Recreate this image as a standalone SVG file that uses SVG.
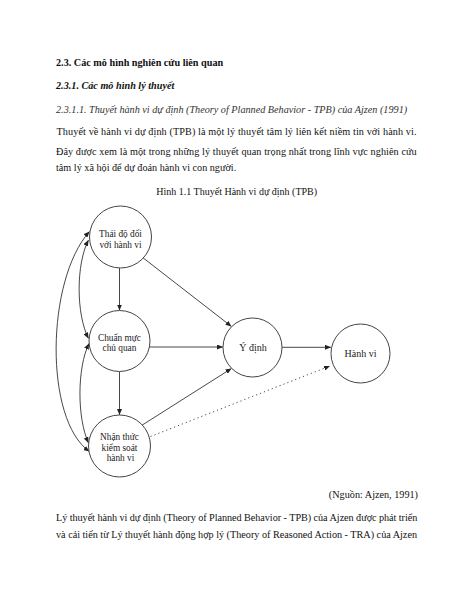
<svg xmlns="http://www.w3.org/2000/svg" width="474" height="613" viewBox="0 0 474 613">
<style>
text{font-family:"Liberation Serif","Times New Roman",serif;fill:#111;}
.body{font-size:10.2px;}
.h1{font-size:10.2px;font-weight:bold;}
.h2{font-size:10.2px;font-weight:bold;font-style:italic;}
.h3{font-size:10.2px;font-style:italic;fill:#333;}
.nl{font-size:9.3px;text-anchor:middle;fill:#222;}
.nr{font-size:10px;text-anchor:middle;fill:#222;}
.node circle{fill:#fff;stroke:#444;stroke-width:1;}
.edge{fill:none;stroke:#333;stroke-width:0.9;marker-end:url(#ah);}
.bi{marker-start:url(#ah);}
.dot{stroke-dasharray:1.2 3;}
</style>
<defs>
<marker id="ah" markerUnits="userSpaceOnUse" markerWidth="6" markerHeight="5" refX="6" refY="2.5" orient="auto-start-reverse">
<path d="M0,0 L6,2.5 L0,5 z" fill="#222"/>
</marker>
</defs>
<rect width="474" height="613" fill="#fff"/>
<g id="page-text">
<text class="h1" x="56" y="66">2.3. Các mô hình nghiên cứu liên quan</text>
<text class="h2" x="56" y="88.5">2.3.1. Các mô hình lý thuyết</text>
<text class="h3" x="56" y="112.5">2.3.1.1. Thuyết hành vi dự định (Theory of Planned Behavior - TPB) của Ajzen (1991)</text>
<text class="body" x="56.5" y="134.5" textLength="360" lengthAdjust="spacing">Thuyết về hành vi dự định (TPB) là một lý thuyết tâm lý liên kết niềm tin với hành vi.</text>
<text class="body" x="56" y="155" textLength="360.7" lengthAdjust="spacing">Đây được xem là một trong những lý thuyết quan trọng nhất trong lĩnh vực nghiên cứu</text>
<text class="body" x="56" y="171">tâm lý xã hội để dự đoán hành vi con người.</text>
<text class="body" x="236.7" y="195" text-anchor="middle" style="font-size:10px">Hình 1.1 Thuyết Hành vi dự định (TPB)</text>
<text class="body" x="418" y="497.5" text-anchor="end">(Nguồn: Ajzen, 1991)</text>
<text class="body" x="56" y="520.5" textLength="361.3" lengthAdjust="spacing">Lý thuyết hành vi dự định (Theory of Planned Behavior - TPB) của Ajzen được phát triển</text>
<text class="body" x="56" y="538" textLength="361" lengthAdjust="spacing">và cải tiến từ Lý thuyết hành động hợp lý (Theory of Reasoned Action - TRA) của Ajzen</text>
</g>
<g id="connectors">
<path class="edge" d="M119.5,268 L119.5,310.5"/>
<path class="edge" d="M119.5,371.5 L119.5,415"/>
<path class="edge" d="M142,257 L231.5,326.5"/>
<path class="edge" d="M149.5,347 L223,347"/>
<path class="edge" d="M141.5,425.5 L231.5,368.5"/>
<path class="edge" d="M282,347.3 L331,347.3"/>
<path class="edge dot" d="M150.5,436.5 L330,366"/>
<path class="edge bi" d="M88.5,240 C76,264 76,314 88.5,338.5"/>
<path class="edge bi" d="M89,343.5 C77,368 77,418 88.5,443"/>
<path class="edge bi" d="M89.5,231.5 C46,280 44,420 89.5,451.5"/>
</g>
<g id="n-thaido" class="node">
<circle cx="120.5" cy="237" r="31"/>
<text class="nl" x="120.5" y="236.5">Thái độ đối</text>
<text class="nl" x="120.5" y="247.5">với hành vi</text>
</g>
<g id="n-chuanmuc" class="node">
<circle cx="119.5" cy="341" r="30.5"/>
<text class="nl" x="119.5" y="340.5">Chuẩn mực</text>
<text class="nl" x="119.5" y="351">chủ quan</text>
</g>
<g id="n-nhanthuc" class="node">
<circle cx="119.5" cy="446" r="31"/>
<text class="nl" x="119.5" y="440">Nhận thức</text>
<text class="nl" x="119.5" y="450.5">kiểm soát</text>
<text class="nl" x="120.5" y="461">hành vi</text>
</g>
<g id="n-ydinh" class="node">
<circle cx="252.5" cy="347.5" r="29.5"/>
<text class="nr" x="253" y="350.5">Ý định</text>
</g>
<g id="n-hanhvi" class="node">
<circle cx="360.5" cy="353.5" r="29.5"/>
<text class="nr" x="360.5" y="356.5">Hành vi</text>
</g>
</svg>
